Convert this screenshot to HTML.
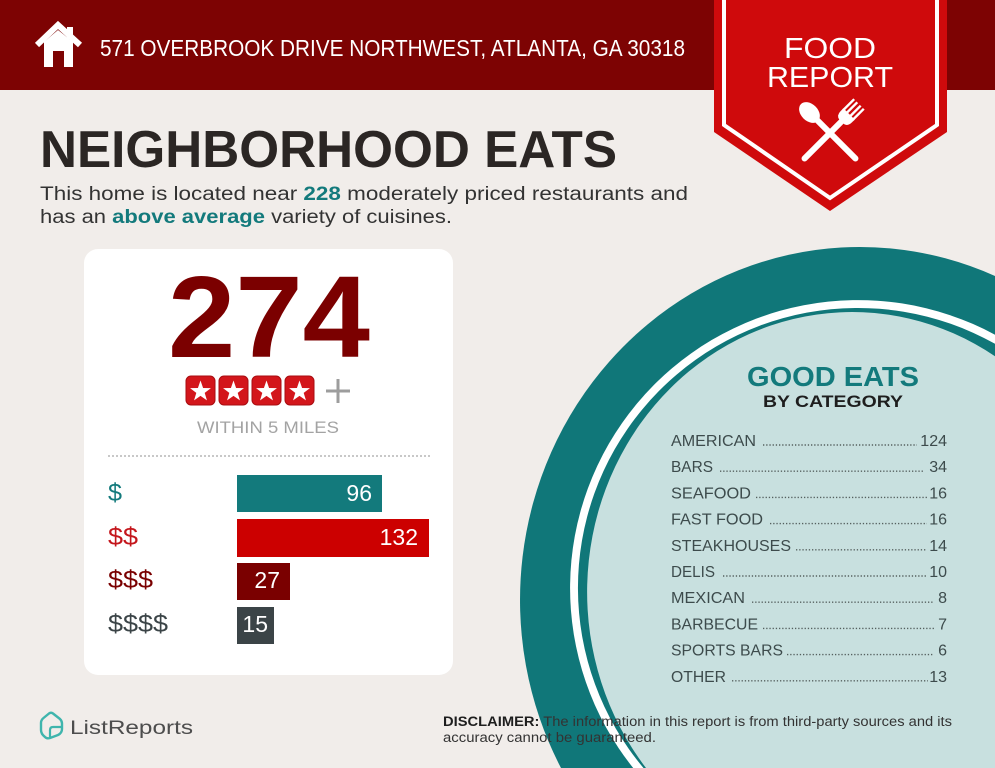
<!DOCTYPE html>
<html>
<head>
<meta charset="utf-8">
<style>
html,body{margin:0;padding:0;background:#f1edea;width:995px;height:768px;overflow:hidden;}
svg{display:block;overflow:hidden;}
text{font-family:"Liberation Sans",sans-serif;}
</style>
</head>
<body>
<svg width="995" height="768" viewBox="0 0 995 768" xmlns="http://www.w3.org/2000/svg">
  <rect x="0" y="0" width="995" height="768" fill="#f1edea"/>
  <!-- header -->
  <rect x="0" y="0" width="995" height="90" fill="#7d0303"/>
  <!-- house icon -->
  <polyline points="37,45 58,25 80,45" fill="none" stroke="#ffffff" stroke-width="6" stroke-linejoin="miter"/>
  <rect x="67" y="27" width="6" height="12" fill="#ffffff"/>
  <path d="M44,42 L58,30 L73,42 L73,67 L64,67 L64,51 L53,51 L53,67 L44,67 Z" fill="#ffffff"/>
  <text x="100" y="56" font-size="23" fill="#ffffff" textLength="585" lengthAdjust="spacingAndGlyphs">571 OVERBROOK DRIVE NORTHWEST, ATLANTA, GA 30318</text>

  <!-- badge -->
  <polygon points="714,0 947,0 947,132 830,211 714,132" fill="#cf0a0c"/>
  <polyline points="724,0 724,125 830,198 937,125 937,0" fill="none" stroke="#ffffff" stroke-width="4"/>
  <text x="830" y="58" font-size="29" fill="#ffffff" text-anchor="middle" textLength="92" lengthAdjust="spacingAndGlyphs">FOOD</text>
  <text x="830" y="87" font-size="29" fill="#ffffff" text-anchor="middle" textLength="126" lengthAdjust="spacingAndGlyphs">REPORT</text>
  <!-- spoon -->
  <g transform="translate(830,133) rotate(-45)" fill="#ffffff">
    <ellipse cx="0" cy="-29" rx="8.5" ry="12"/>
    <rect x="-3" y="-21" width="6" height="60" rx="3"/>
  </g>
  <!-- fork -->
  <g transform="translate(830,133) rotate(45)" fill="#ffffff">
    <rect x="-8" y="-41" width="2.4" height="16"/>
    <rect x="-3.6" y="-41" width="2.4" height="16"/>
    <rect x="1.2" y="-41" width="2.4" height="16"/>
    <rect x="5.6" y="-41" width="2.4" height="16"/>
    <path d="M-8,-27 L8,-27 L8,-23 Q8,-17 3,-16 L-3,-16 Q-8,-17 -8,-23 Z"/>
    <rect x="-3" y="-18" width="6" height="57" rx="3"/>
  </g>

  <!-- title -->
  <text x="40" y="167" font-size="52" font-weight="bold" fill="#2b2624" textLength="577" lengthAdjust="spacingAndGlyphs">NEIGHBORHOOD EATS</text>
  <text x="40" y="200" font-size="19" fill="#333333" textLength="648" lengthAdjust="spacingAndGlyphs">This home is located near <tspan font-weight="bold" fill="#137a7c">228</tspan> moderately priced restaurants and</text>
  <text x="40" y="223" font-size="19" fill="#333333" textLength="412" lengthAdjust="spacingAndGlyphs">has an <tspan font-weight="bold" fill="#137a7c">above average</tspan> variety of cuisines.</text>

  <!-- card -->
  <rect x="84" y="249" width="369" height="426" rx="14" fill="#ffffff"/>
  <text x="269" y="357" font-size="116" font-weight="bold" fill="#7b0000" text-anchor="middle" textLength="202" lengthAdjust="spacingAndGlyphs">274</text>

  <!-- stars -->
  <g>
    <rect x="186" y="376" width="29" height="29" rx="5" fill="#d3161b" stroke="#a80c10" stroke-width="1"/>
    <rect x="219" y="376" width="29" height="29" rx="5" fill="#d3161b" stroke="#a80c10" stroke-width="1"/>
    <rect x="252" y="376" width="29" height="29" rx="5" fill="#d3161b" stroke="#a80c10" stroke-width="1"/>
    <rect x="285" y="376" width="29" height="29" rx="5" fill="#d3161b" stroke="#a80c10" stroke-width="1"/>
    <polygon transform="translate(200.5,391.5)" fill="#ffffff" points="0,-11 2.586,-3.56 10.46,-3.4 4.185,1.36 6.466,8.9 0,4.4 -6.466,8.9 -4.185,1.36 -10.46,-3.4 -2.586,-3.56"/>
    <polygon transform="translate(233.5,391.5)" fill="#ffffff" points="0,-11 2.586,-3.56 10.46,-3.4 4.185,1.36 6.466,8.9 0,4.4 -6.466,8.9 -4.185,1.36 -10.46,-3.4 -2.586,-3.56"/>
    <polygon transform="translate(266.5,391.5)" fill="#ffffff" points="0,-11 2.586,-3.56 10.46,-3.4 4.185,1.36 6.466,8.9 0,4.4 -6.466,8.9 -4.185,1.36 -10.46,-3.4 -2.586,-3.56"/>
    <polygon transform="translate(299.5,391.5)" fill="#ffffff" points="0,-11 2.586,-3.56 10.46,-3.4 4.185,1.36 6.466,8.9 0,4.4 -6.466,8.9 -4.185,1.36 -10.46,-3.4 -2.586,-3.56"/>
  </g>
  <line x1="326" y1="391" x2="350" y2="391" stroke="#9d9d9d" stroke-width="3"/>
  <line x1="338" y1="379" x2="338" y2="403" stroke="#9d9d9d" stroke-width="3"/>
  <text x="268" y="433" font-size="17" fill="#a3a3a3" text-anchor="middle" textLength="142" lengthAdjust="spacingAndGlyphs">WITHIN 5 MILES</text>
  <line x1="108" y1="456" x2="430" y2="456" stroke="#a8a8a8" stroke-width="1.3" stroke-dasharray="2 2"/>

  <!-- bars -->
  <text x="108" y="501" font-size="25" fill="#137a7c" textLength="14" lengthAdjust="spacingAndGlyphs">$</text>
  <text x="108" y="545" font-size="25" fill="#c4161c" textLength="30" lengthAdjust="spacingAndGlyphs">$$</text>
  <text x="108" y="588" font-size="25" fill="#7a0000" textLength="45" lengthAdjust="spacingAndGlyphs">$$$</text>
  <text x="108" y="632" font-size="25" fill="#3b4447" textLength="60" lengthAdjust="spacingAndGlyphs">$$$$</text>

  <rect x="237" y="475" width="145" height="37" fill="#137a7c"/>
  <rect x="237" y="519" width="192" height="38" fill="#cc0000"/>
  <rect x="237" y="563" width="53" height="37" fill="#7a0000"/>
  <rect x="237" y="607" width="37" height="37" fill="#3b4447"/>
  <text x="372" y="501" font-size="23" fill="#ffffff" text-anchor="end">96</text>
  <text x="418" y="545" font-size="23" fill="#ffffff" text-anchor="end">132</text>
  <text x="280" y="588" font-size="23" fill="#ffffff" text-anchor="end">27</text>
  <text x="268" y="632" font-size="23" fill="#ffffff" text-anchor="end">15</text>

  <!-- plate circle (clipped to frame as paths) -->
  <path d="M561,768 A340,353 0 0 1 995,276 L995,768 Z" fill="#107779"/>
  <path d="M633.2,768 A288,288 0 0 1 995,334.7 L995,768 Z" fill="#ffffff"/>
  <path d="M643.5,768 A280,280 0 0 1 995,343.8 L995,768 Z" fill="#107779"/>
  <path d="M646,768 A265,280 0 0 1 995,356.2 L995,768 Z" fill="#c8e0df"/>

  <text x="833" y="386" font-size="28" font-weight="bold" fill="#137a7c" text-anchor="middle" textLength="172" lengthAdjust="spacingAndGlyphs">GOOD EATS</text>
  <text x="833" y="407" font-size="17" font-weight="bold" fill="#1e1e1e" text-anchor="middle" textLength="140" lengthAdjust="spacingAndGlyphs">BY CATEGORY</text>

  <g font-size="16" fill="#3d4b4c">
    <text x="671" y="446" textLength="85" lengthAdjust="spacingAndGlyphs">AMERICAN</text>
    <text x="947" y="446" text-anchor="end">124</text>
    <text x="671" y="472.2" textLength="42" lengthAdjust="spacingAndGlyphs">BARS</text>
    <text x="947" y="472.2" text-anchor="end">34</text>
    <text x="671" y="498.4" textLength="80" lengthAdjust="spacingAndGlyphs">SEAFOOD</text>
    <text x="947" y="498.4" text-anchor="end">16</text>
    <text x="671" y="524.6" textLength="92" lengthAdjust="spacingAndGlyphs">FAST FOOD</text>
    <text x="947" y="524.6" text-anchor="end">16</text>
    <text x="671" y="550.8" textLength="120" lengthAdjust="spacingAndGlyphs">STEAKHOUSES</text>
    <text x="947" y="550.8" text-anchor="end">14</text>
    <text x="671" y="577" textLength="44" lengthAdjust="spacingAndGlyphs">DELIS</text>
    <text x="947" y="577" text-anchor="end">10</text>
    <text x="671" y="603.2" textLength="74" lengthAdjust="spacingAndGlyphs">MEXICAN</text>
    <text x="947" y="603.2" text-anchor="end">8</text>
    <text x="671" y="629.4" textLength="87" lengthAdjust="spacingAndGlyphs">BARBECUE</text>
    <text x="947" y="629.4" text-anchor="end">7</text>
    <text x="671" y="655.6" textLength="112" lengthAdjust="spacingAndGlyphs">SPORTS BARS</text>
    <text x="947" y="655.6" text-anchor="end">6</text>
    <text x="671" y="681.8" textLength="55" lengthAdjust="spacingAndGlyphs">OTHER</text>
    <text x="947" y="681.8" text-anchor="end">13</text>
  </g>
  <g stroke="#55605f" stroke-width="1.4" stroke-dasharray="1.3 1.9">
    <line x1="763" y1="445" x2="917" y2="445"/>
    <line x1="720" y1="471.2" x2="924" y2="471.2"/>
    <line x1="756" y1="497.4" x2="927" y2="497.4"/>
    <line x1="770" y1="523.6" x2="927" y2="523.6"/>
    <line x1="796" y1="549.8" x2="927" y2="549.8"/>
    <line x1="723" y1="576" x2="927" y2="576"/>
    <line x1="752" y1="602.2" x2="933" y2="602.2"/>
    <line x1="763" y1="628.4" x2="934" y2="628.4"/>
    <line x1="787" y1="654.6" x2="933" y2="654.6"/>
    <line x1="732" y1="680.8" x2="928" y2="680.8"/>
  </g>

  <!-- disclaimer -->
  <text x="443" y="726" font-size="13.5" fill="#333333" textLength="509" lengthAdjust="spacingAndGlyphs"><tspan font-weight="bold" fill="#1e1e1e">DISCLAIMER:</tspan> The information in this report is from third-party sources and its</text>
  <text x="443" y="742" font-size="13.5" fill="#333333" textLength="213" lengthAdjust="spacingAndGlyphs">accuracy cannot be guaranteed.</text>

  <!-- ListReports logo -->
  <path d="M41,727 L41,723 Q41,720 43.5,718 L49,713.5 Q51,712 53,713.5 L60,719 Q62,721 62,723.5 L62,729 Q62,733 58,735 L50,738 Q47,739 45,737 Q41,734 41,730 Z" fill="none" stroke="#3fb5ad" stroke-width="2.4" stroke-linejoin="round"/>
  <path d="M50,737 L50,730 Q50,727 53,727 L61,727" fill="none" stroke="#3fb5ad" stroke-width="2.2" stroke-linejoin="round"/>
  <text x="70" y="734" font-size="19" fill="#4d4d4d" textLength="123" lengthAdjust="spacingAndGlyphs">ListReports</text>
</svg>
</body>
</html>
